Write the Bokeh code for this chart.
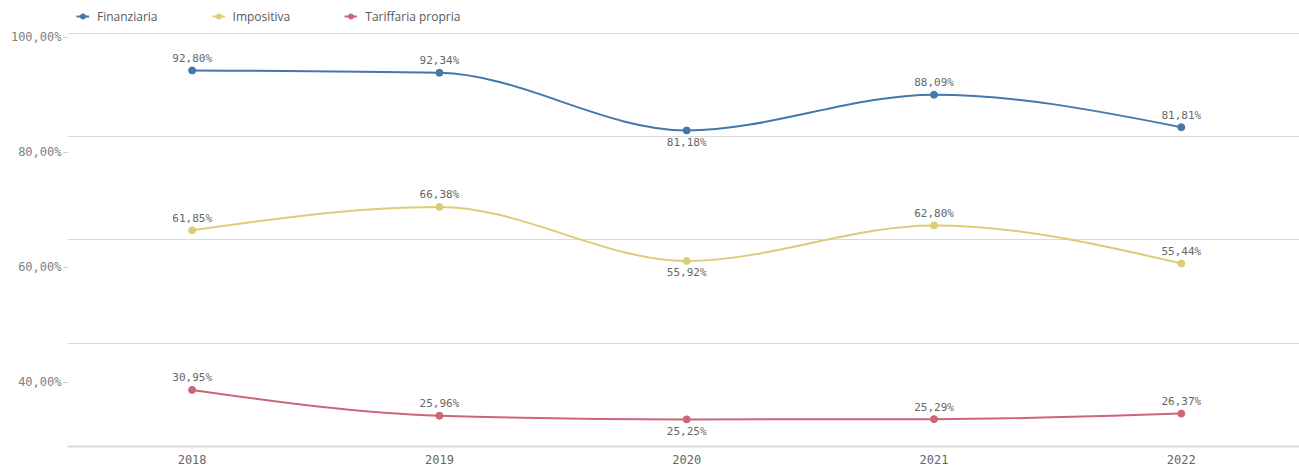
import numpy as np
from bokeh.plotting import figure
from bokeh.models import (ColumnDataSource, Range1d, LinearAxis, FixedTicker,
                          Legend, LegendItem)
from bokeh.core.properties import value
from bokeh.embed import file_html
from bokeh.resources import INLINE

# ---------------- data ----------------
years = ["2018", "2019", "2020", "2021", "2022"]
finanziaria = [92.80, 92.34, 81.18, 88.09, 81.81]
impositiva = [61.85, 66.38, 55.92, 62.80, 55.44]
tariffaria = [30.95, 25.96, 25.25, 25.29, 26.37]
series_names = ["Finanziaria", "Impositiva", "Tariffaria propria"]
series_colors = ["#4477aa", "#ddcc77", "#cc6677"]
y_ticks = [100, 80, 60, 40]
y_tick_labels = ["100,00%", "80,00%", "60,00%", "40,00%"]
grid_ticks = [20, 40, 60, 80, 100]

MONO = "DejaVu Sans Mono"
SANS = "Open Sans"

xs = list(range(len(years)))


def monotone_tangents(x, y):
    n = len(x)
    t = [0.0] * n
    for i in range(1, n - 1):
        h0 = x[i] - x[i - 1]
        h1 = x[i + 1] - x[i]
        s0 = (y[i] - y[i - 1]) / h0
        s1 = (y[i + 1] - y[i]) / h1
        p = (s0 * h1 + s1 * h0) / (h0 + h1)
        sg = (-1 if s0 < 0 else 1) + (-1 if s1 < 0 else 1)
        t[i] = sg * min(abs(s0), abs(s1), 0.5 * abs(p))
    h = x[1] - x[0]
    t[0] = (3 * (y[1] - y[0]) / h - t[1]) / 2
    h = x[n - 1] - x[n - 2]
    t[n - 1] = (3 * (y[n - 1] - y[n - 2]) / h - t[n - 2]) / 2
    return t


p = figure(width=1299, height=469, output_backend="svg", toolbar_location=None,
           x_range=Range1d(-0.504, 4.478), y_range=Range1d(20, 106.33),
           min_border_left=67, min_border_right=0, min_border_top=0,
           min_border_bottom=23)
p.outline_line_color = None
p.background_fill_color = "white"
p.border_fill_color = "white"

# label axis range (tick labels sit offset from the gridlines in the original)
p.extra_y_ranges = {"lab": Range1d(28.82, 106.38)}

p.yaxis.visible = False
lab_axis = LinearAxis(y_range_name="lab", ticker=FixedTicker(ticks=y_ticks))
lab_axis.major_label_overrides = {v: s for v, s in zip(y_ticks, y_tick_labels)}
lab_axis.axis_line_color = None
lab_axis.minor_tick_line_color = None
lab_axis.major_tick_in = 0
lab_axis.major_tick_out = 4
lab_axis.major_tick_line_color = "#cccccc"
lab_axis.major_label_standoff = 2
lab_axis.major_label_text_font = MONO
lab_axis.major_label_text_font_size = "12px"
lab_axis.major_label_text_color = "#808080"
p.add_layout(lab_axis, "left")

p.ygrid.ticker = FixedTicker(ticks=grid_ticks)
p.ygrid.grid_line_color = "#d9d9d9"
p.ygrid.grid_line_width = 1
p.xgrid.visible = False

p.xaxis.ticker = FixedTicker(ticks=xs)
p.xaxis.major_label_overrides = {i: y for i, y in zip(xs, years)}
p.xaxis.axis_line_color = "#d9d9d9"
p.xaxis.axis_line_width = 2
p.xaxis.major_tick_line_color = None
p.xaxis.major_tick_in = 0
p.xaxis.major_tick_out = 0
p.xaxis.minor_tick_line_color = None
p.xaxis.major_label_standoff = 8
p.xaxis.major_label_text_font = MONO
p.xaxis.major_label_text_font_size = "12px"
p.xaxis.major_label_text_color = "#666666"

items = []
for name, vals, col in zip(series_names, [finanziaria, impositiva, tariffaria], series_colors):
    t = monotone_tangents(xs, vals)
    x0, y0, x1, y1, cx0, cy0, cx1, cy1 = [], [], [], [], [], [], [], []
    for i in range(len(xs) - 1):
        dx = (xs[i + 1] - xs[i]) / 3
        x0.append(xs[i]); y0.append(vals[i])
        x1.append(xs[i + 1]); y1.append(vals[i + 1])
        cx0.append(xs[i] + dx); cy0.append(vals[i] + dx * t[i])
        cx1.append(xs[i + 1] - dx); cy1.append(vals[i + 1] - dx * t[i + 1])
    bsrc = ColumnDataSource(dict(x0=x0, y0=y0, x1=x1, y1=y1,
                                 cx0=cx0, cy0=cy0, cx1=cx1, cy1=cy1))
    b = p.bezier(x0="x0", y0="y0", x1="x1", y1="y1", cx0="cx0", cy0="cy0",
                 cx1="cx1", cy1="cy1", source=bsrc, line_color=col, line_width=2)

    offs = []
    for i, v in enumerate(vals):
        below = 0 < i < len(vals) - 1 and v < vals[i - 1] and v < vals[i + 1]
        offs.append(12 if below else -12)
    labels = [f"{v:.2f}%".replace(".", ",") for v in vals]
    src = ColumnDataSource(dict(x=xs, y=vals, lab=labels, off=offs))
    c = p.scatter("x", "y", source=src, size=7, fill_color=col, line_color=col)
    p.text("x", "y", text="lab", source=src, y_offset="off",
           text_align="center", text_baseline="middle",
           text_font=value(MONO), text_font_size="11px", text_color="#666666")
    items.append(LegendItem(label=name, renderers=[b, c]))

legend = Legend(items=items, orientation="horizontal", location=(9, 420))
legend.background_fill_alpha = 0
legend.border_line_color = None
legend.padding = 0
legend.margin = 0
legend.spacing = 54
legend.glyph_width = 13
legend.glyph_height = 20
legend.label_standoff = 8
legend.label_text_font = SANS
legend.label_text_font_size = "12px"
legend.label_text_color = "#595959"
p.add_layout(legend, "center")

open("out.html", "w").write(file_html(p, INLINE))
